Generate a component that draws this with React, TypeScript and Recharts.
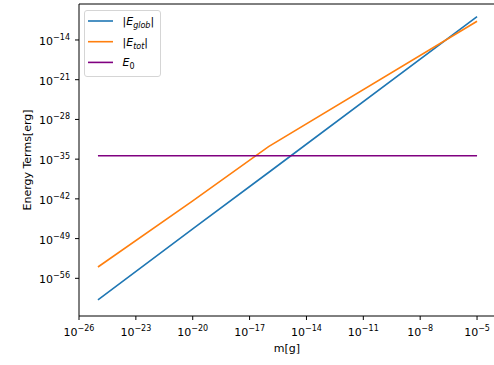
import React from 'react';
import { LineChart, Line, XAxis, YAxis, ReferenceLine, Legend } from 'recharts';

// log10 of mass [g]
const logMass = [-25, -20, -16, -5];
// log10 of energy terms [erg]
const logEglob = [-59.8, -47.3, -37.35, -9.9];
const logEtot = [-54.0, -42.35, -32.8, -10.7];
const logE0 = [-34.4, -34.4, -34.4, -34.4];

const xTicks = [-26, -23, -20, -17, -14, -11, -8, -5];
const yTicks = [-56, -49, -42, -35, -28, -21, -14];
const xDomain: [number, number] = [-26, -4];
const yDomain: [number, number] = [-62.64, -7.66];

const BLUE = '#1f77b4';
const ORANGE = '#ff7f0e';
const PURPLE = '#800080';
const FONT = "'DejaVu Sans', sans-serif";

const data = logMass.map((m, i) => ({ m, glob: logEglob[i], tot: logEtot[i], e0: logE0[i] }));

const expLabel = (v: number) => (v < 0 ? '\u2212' + Math.abs(v) : String(v));

const XTick = (props: any) => {
  const { x, y, payload } = props;
  return (
    <text x={x} y={y + 14} textAnchor="middle" fontFamily={FONT} fontSize={11} fill="#000">
      10<tspan fontSize={8} dy={-5}>{expLabel(payload.value)}</tspan>
    </text>
  );
};

const YTick = (props: any) => {
  const { x, y, payload } = props;
  return (
    <text x={x} y={y + 5} textAnchor="end" fontFamily={FONT} fontSize={11} fill="#000">
      10<tspan fontSize={8} dy={-5}>{expLabel(payload.value)}</tspan>
    </text>
  );
};

const YLabel = () => (
  <text x={27} y={160} transform="rotate(-90 27 160)" textAnchor="middle" dominantBaseline="central" fontFamily={FONT} fontSize={11} fill="#000">
    Energy Terms[erg]
  </text>
);

const XLabel = () => (
  <text x={287} y={352} textAnchor="middle" fontFamily={FONT} fontSize={11} fill="#000">
    m[g]
  </text>
);

const legendItems = [
  { key: 'glob', color: BLUE },
  { key: 'tot', color: ORANGE },
  { key: 'e0', color: PURPLE },
];

const LegendLabel = ({ k, x, y }: { k: string; x: number; y: number }) => {
  if (k === 'glob')
    return (
      <text x={x} y={y} fontFamily={FONT} fontSize={11} fill="#000">
        |<tspan fontStyle="italic">E</tspan>
        <tspan fontStyle="italic" fontSize={8} dy={3}>glob</tspan>
        <tspan dy={-3}>|</tspan>
      </text>
    );
  if (k === 'tot')
    return (
      <text x={x} y={y} fontFamily={FONT} fontSize={11} fill="#000">
        |<tspan fontStyle="italic">E</tspan>
        <tspan fontStyle="italic" fontSize={8} dy={3}>tot</tspan>
        <tspan dy={-3}>|</tspan>
      </text>
    );
  return (
    <text x={x} y={y} fontFamily={FONT} fontSize={11} fill="#000">
      <tspan fontStyle="italic">E</tspan>
      <tspan fontSize={8} dy={3}>0</tspan>
    </text>
  );
};

const LegendBox = () => (
  <svg width={77} height={67} style={{ display: 'block' }}>
    <rect x={0.5} y={0.5} width={76} height={66} rx={2.5} ry={2.5} fill="#fff" fillOpacity={0.8} stroke="#d5d5d5" />
    {legendItems.map((it, i) => {
      const cy = 11 + i * 20.7;
      return (
        <g key={it.key}>
          <line x1={4} x2={29} y1={cy} y2={cy} stroke={it.color} strokeWidth={1.6} />
          <LegendLabel k={it.key} x={38.5} y={cy + 4} />
        </g>
      );
    })}
  </svg>
);

export default function App() {
  return (
    <div style={{ position: 'absolute', left: 0, top: 0, width: 494, height: 365, overflow: 'hidden', background: '#fff' }}>
      <LineChart width={498} height={365} data={data} margin={{ top: 4, right: 2, left: 0, bottom: 0 }}>
        <XAxis
          type="number"
          dataKey="m"
          domain={xDomain}
          ticks={xTicks}
          interval={0}
          allowDataOverflow
          height={49}
          tickSize={4}
          tickMargin={2}
          axisLine={{ stroke: '#000', strokeWidth: 1 }}
          tickLine={{ stroke: '#000', strokeWidth: 1 }}
          tick={<XTick />}
          label={<XLabel />}
        />
        <YAxis
          type="number"
          domain={yDomain}
          ticks={yTicks}
          interval={0}
          allowDataOverflow
          width={79}
          tickSize={4}
          tickMargin={5}
          axisLine={{ stroke: '#000', strokeWidth: 1 }}
          tickLine={{ stroke: '#000', strokeWidth: 1 }}
          tick={<YTick />}
          label={<YLabel />}
        />
        <ReferenceLine y={yDomain[1]} stroke="#000" strokeWidth={1} />
        <Line type="linear" dataKey="glob" stroke={BLUE} strokeWidth={1.6} dot={false} isAnimationActive={false} />
        <Line type="linear" dataKey="tot" stroke={ORANGE} strokeWidth={1.6} dot={false} isAnimationActive={false} />
        <Line type="linear" dataKey="e0" stroke={PURPLE} strokeWidth={1.6} dot={false} isAnimationActive={false} />
        <Legend
          layout="vertical"
          align="center"
          verticalAlign="middle"
          wrapperStyle={{ position: 'absolute', left: 84, top: 10, width: 77, height: 67, margin: 0, padding: 0 }}
          content={() => <LegendBox />}
        />
      </LineChart>
    </div>
  );
}
